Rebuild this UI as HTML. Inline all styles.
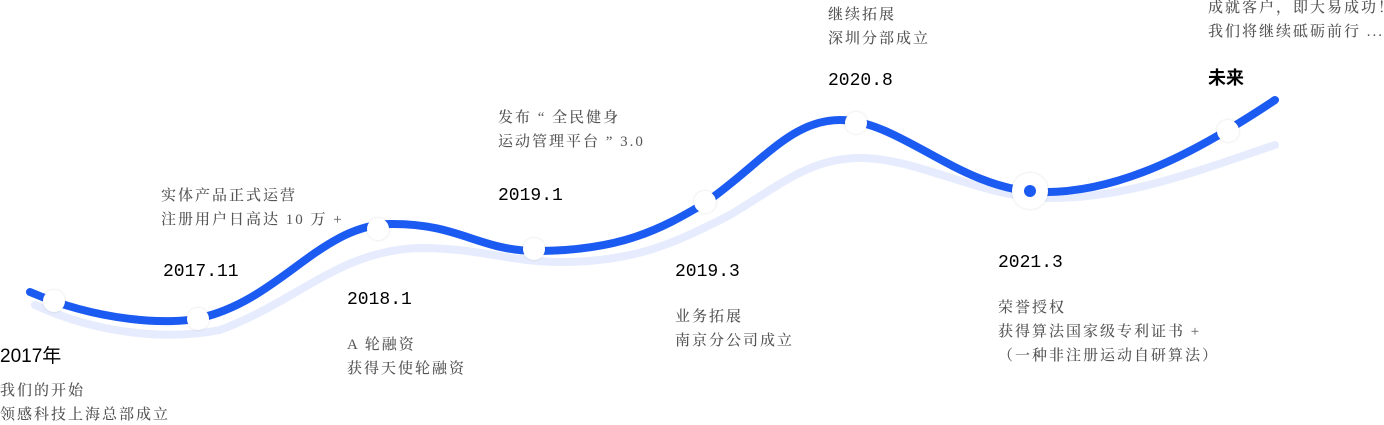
<!DOCTYPE html>
<html><head><meta charset="utf-8"><style>
html,body{margin:0;padding:0;background:#fff;width:1384px;height:425px;overflow:hidden;position:relative}
.t{position:absolute;white-space:nowrap;font-family:"Liberation Serif","Noto Serif CJK SC",serif;}
.g{font-size:15px;color:#555;letter-spacing:2px;line-height:24px;font-weight:500}
.d{font-family:"Liberation Mono","Noto Sans CJK SC",monospace;font-size:18px;color:#000;line-height:22px}
svg{position:absolute;left:0;top:0}
</style></head><body>
<svg width="1384" height="425">
<defs><filter id="sh" x="-50%" y="-50%" width="200%" height="200%"><feDropShadow dx="0" dy="0" stdDeviation="1.2" flood-color="#000" flood-opacity="0.15"/></filter></defs>
<path d="M35,305 C100,335 170,340 220,330 C300,300 340,250 420,248 C480,248 510,262 560,262 C640,262 680,240 730,215 C780,185 810,158 860,158 C920,158 980,198 1050,198 C1130,198 1200,170 1275,145" fill="none" stroke="#e6ecfd" stroke-width="8" stroke-linecap="round"/>
<path d="M30,292 C100,322 170,325 200,318 C280,300 320,225 390,224 C460,223 480,252 540,251 C620,250 660,230 705,203 C760,165 790,120 840,120 C900,120 960,190 1040,192 C1120,194 1200,150 1275,100" fill="none" stroke="#1c5bf2" stroke-width="8" stroke-linecap="round"/>
<g fill="#fff" filter="url(#sh)">
<circle cx="54" cy="301" r="11"/><circle cx="198" cy="319" r="11"/><circle cx="378" cy="229" r="11"/><circle cx="534" cy="249" r="11"/><circle cx="705" cy="202" r="11"/><circle cx="856" cy="123" r="11"/><circle cx="1228" cy="131" r="11"/><circle cx="1030" cy="191" r="18"/>
</g>
<circle cx="1030" cy="191" r="6" fill="#1c5bf2"/>
</svg>
<div class="t d" style="left:0;top:346px;font-size:19px;font-family:'Liberation Sans','Noto Sans CJK SC',sans-serif">2017年</div>
<div class="t g" style="left:0;top:379px">我们的开始<br>领感科技上海总部成立</div>
<div class="t g" style="left:161px;top:184px">实体产品正式运营<br>注册用户日高达 10 万 +</div>
<div class="t d" style="left:163px;top:261px">2017.11</div>
<div class="t d" style="left:347px;top:289px">2018.1</div>
<div class="t g" style="left:347px;top:333px">A 轮融资<br>获得天使轮融资</div>
<div class="t g" style="left:498px;top:106px">发布 “ 全民健身<br>运动管理平台 ” 3.0</div>
<div class="t d" style="left:498px;top:185px">2019.1</div>
<div class="t d" style="left:675px;top:261px">2019.3</div>
<div class="t g" style="left:675px;top:305px">业务拓展<br>南京分公司成立</div>
<div class="t g" style="left:828px;top:3px">继续拓展<br>深圳分部成立</div>
<div class="t d" style="left:828px;top:70px">2020.8</div>
<div class="t d" style="left:998px;top:252px">2021.3</div>
<div class="t g" style="left:998px;top:296px">荣誉授权<br>获得算法国家级专利证书 +<br>（一种非注册运动自研算法）</div>
<div class="t g" style="left:1208px;top:-4px">成就客户，即大易成功！<br>我们将继续砥砺前行 ...</div>
<div class="t d" style="left:1208px;top:67px;font-family:'Liberation Sans','Noto Sans CJK SC',sans-serif;font-weight:bold">未来</div>
</body></html>
